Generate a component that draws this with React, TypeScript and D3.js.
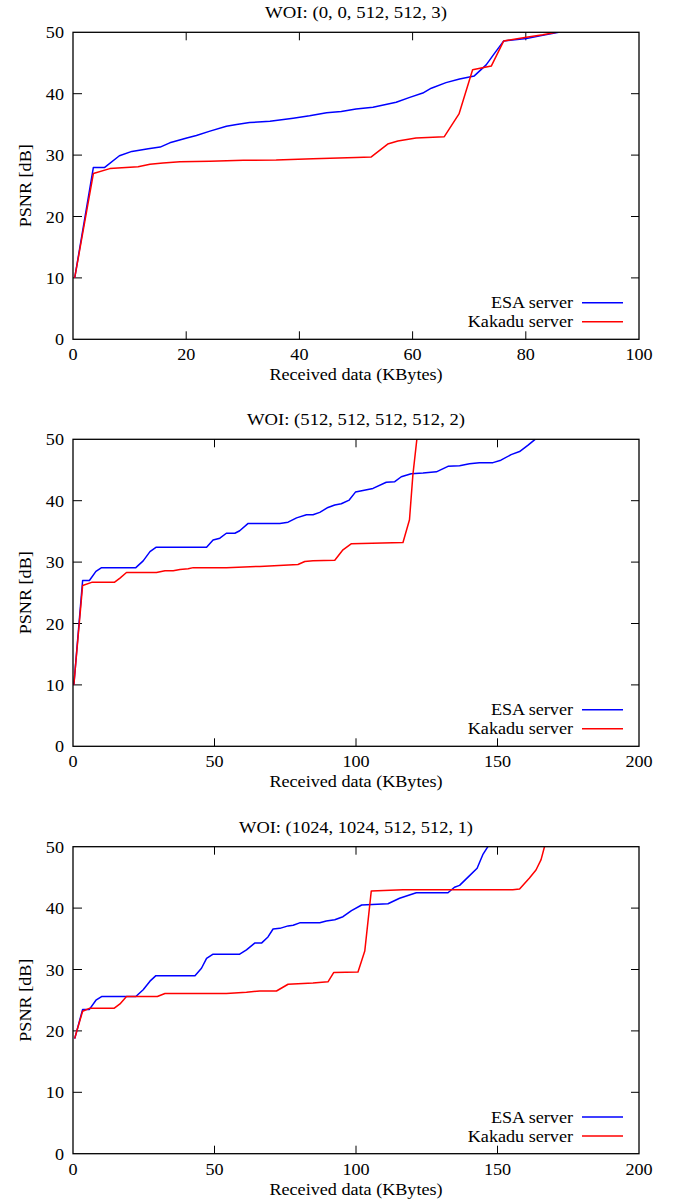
import React, { useEffect, useRef } from "react";
import * as d3 from "d3";

// received data (KBytes), PSNR (dB)
const woi1Esa: [number, number][] = [
  [0.3, 10], [3.6, 28.0], [5.6, 28.0], [8.2, 29.9], [10.4, 30.6], [13.3, 31.05],
  [15.4, 31.3], [17.1, 32.0], [20.1, 32.8], [21.8, 33.2], [24.2, 33.9], [27.1, 34.7],
  [28.9, 35.0], [31.2, 35.3], [34.8, 35.5], [38.9, 36.0], [41.8, 36.4], [44.8, 36.9],
  [47.4, 37.1], [50.0, 37.5], [53.0, 37.8], [57.1, 38.6], [59.5, 39.4], [61.8, 40.1],
  [63.3, 40.9], [65.9, 41.8], [68.3, 42.4], [70.9, 42.9], [73.0, 44.7], [74.5, 46.6],
  [76.1, 48.6], [80.1, 49.0], [83.0, 49.5], [85.8, 50.0],
];
const woi1Kakadu: [number, number][] = [
  [0.3, 10], [3.6, 27.0], [6.5, 27.8], [11.5, 28.1], [13.6, 28.5], [15.9, 28.7],
  [18.9, 28.9], [24.2, 29.0], [30.1, 29.15], [35.9, 29.2], [42.4, 29.4], [50.0, 29.6],
  [52.7, 29.7], [55.6, 31.8], [57.4, 32.3], [60.6, 32.8], [65.6, 33.0], [68.2, 36.7],
  [70.6, 43.9], [73.9, 44.5], [76.1, 48.6], [80.1, 49.2], [83.0, 49.6], [85.4, 50.0],
];

const woi2Esa: [number, number][] = [
  [0.3, 10], [3.4, 27.0], [5.8, 27.0], [8.1, 28.5], [10.1, 29.1], [22.2, 29.1],
  [24.8, 30.2], [27.2, 31.7], [29.3, 32.4], [47.2, 32.4], [49.5, 33.6], [51.9, 33.9],
  [54.2, 34.7], [57.2, 34.7], [58.9, 35.1], [61.9, 36.3], [73.1, 36.3], [76.0, 36.5],
  [79.0, 37.2], [82.5, 37.7], [84.8, 37.7], [87.2, 38.1], [90.1, 38.9], [92.5, 39.3],
  [94.8, 39.5], [97.6, 40.1], [99.8, 41.4], [106.0, 42.0], [110.7, 43.0], [113.7, 43.1],
  [116.0, 43.9], [119.5, 44.4], [123.7, 44.5], [128.4, 44.7], [132.5, 45.6], [136.6, 45.7],
  [140.1, 46.0], [143.6, 46.2], [148.4, 46.2], [151.2, 46.6], [154.8, 47.5], [157.8, 48.0],
  [160.7, 49.0], [163.3, 50.0],
];
const woi2Kakadu: [number, number][] = [
  [0.3, 10], [3.4, 26.2], [6.6, 26.7], [14.6, 26.7], [16.6, 27.4], [18.9, 28.3],
  [29.5, 28.3], [32.5, 28.6], [35.4, 28.6], [37.8, 28.8], [40.7, 28.9], [42.5, 29.1],
  [54.2, 29.1], [66.0, 29.3], [79.5, 29.6], [81.9, 30.1], [84.8, 30.2], [92.5, 30.3],
  [95.4, 32.0], [98.4, 33.0], [116.6, 33.2], [118.9, 36.9], [120.1, 44.2], [121.5, 50.0],
];

const woi3Esa: [number, number][] = [
  [0.6, 18.75], [3.4, 23.5], [5.8, 23.5], [8.1, 25.0], [10.1, 25.6], [22.2, 25.6],
  [24.8, 26.7], [27.2, 28.1], [29.3, 29.0], [43.1, 29.0], [45.4, 30.2], [47.2, 31.8],
  [49.5, 32.5], [58.9, 32.5], [61.3, 33.2], [64.2, 34.3], [66.6, 34.3], [68.9, 35.3],
  [70.7, 36.6], [73.1, 36.7], [76.0, 37.1], [77.8, 37.2], [80.1, 37.6], [87.2, 37.6],
  [89.5, 37.9], [92.5, 38.1], [95.4, 38.6], [98.4, 39.6], [102.0, 40.5], [111.3, 40.7],
  [115.4, 41.6], [121.3, 42.5], [132.5, 42.5], [134.8, 43.4], [136.6, 43.7], [139.5, 45.0],
  [142.8, 46.5], [144.8, 48.7], [146.6, 50.0],
];
const woi3Kakadu: [number, number][] = [
  [0.6, 18.75], [1.3, 19.9], [3.4, 23.2], [6.0, 23.7], [14.6, 23.7], [16.6, 24.4],
  [18.9, 25.6], [29.8, 25.6], [32.5, 26.1], [54.2, 26.1], [61.3, 26.3], [66.0, 26.5],
  [71.9, 26.5], [76.0, 27.6], [84.8, 27.8], [90.1, 28.0], [92.1, 29.5], [100.7, 29.6],
  [103.1, 33.0], [105.4, 42.8], [116.6, 43.0], [129.5, 43.0], [155.4, 43.0], [157.8, 43.1],
  [161.3, 44.9], [163.6, 46.2], [165.4, 47.9], [166.6, 50.0],
];

const titles = [
  "WOI: (0, 0, 512, 512, 3)",
  "WOI: (512, 512, 512, 512, 2)",
  "WOI: (1024, 1024, 512, 512, 1)",
];
const xMaxes = [100, 200, 200];
const xSteps = [20, 50, 50];
const esaSeries = [woi1Esa, woi2Esa, woi3Esa];
const kakaduSeries = [woi1Kakadu, woi2Kakadu, woi3Kakadu];
const seriesNames = ["ESA server", "Kakadu server"];
const seriesColors = ["#0000ff", "#ff0000"];

const W = 683;
const H = 1203;
const plotLeft = 73;
const plotWidth = 566;
const plotHeight = 307;
const plotTops = [32.3, 439.3, 846.7];
const titleWidths = [182, 218, 234];
const FONT = "'Liberation Serif', 'Times New Roman', serif";
const FS = 16.5;
const SX = 1.1; // the glyphs are a bit wide in the original

const App = () => {
  const ref = useRef<SVGSVGElement>(null);

  useEffect(() => {
    const svg = d3.select(ref.current);
    svg.selectAll("*").remove();

    const label = (g, x, y, text, anchor, rot = 0) =>
      g
        .append("text")
        .attr("transform", `translate(${x},${y}) rotate(${rot}) scale(${SX},1)`)
        .attr("text-anchor", anchor)
        .style("font-family", FONT)
        .style("font-size", `${FS}px`)
        .attr("fill", "#000")
        .text(text);

    titles.forEach((title, i) => {
      const top = plotTops[i];
      const bottom = top + plotHeight;
      const right = plotLeft + plotWidth;
      const g = svg.append("g");

      const x = d3.scaleLinear().domain([0, xMaxes[i]]).range([plotLeft, right]);
      const y = d3.scaleLinear().domain([0, 50]).range([bottom, top]);

      //clip
      const clipId = `clip${i}`;
      g.append("clipPath")
        .attr("id", clipId)
        .append("rect")
        .attr("x", plotLeft)
        .attr("y", top)
        .attr("width", plotWidth)
        .attr("height", plotHeight);

      //ticks on all four sides, pointing inwards
      const xTicks = d3.range(0, xMaxes[i] + 1, xSteps[i]);
      const yTicks = d3.range(0, 51, 10);
      xTicks.forEach((t) => {
        if (t > 0 && t < xMaxes[i]) {
          g.append("line").attr("x1", x(t)).attr("x2", x(t)).attr("y1", bottom).attr("y2", bottom - 8)
            .attr("stroke", "#000").attr("stroke-width", 1);
          g.append("line").attr("x1", x(t)).attr("x2", x(t)).attr("y1", top).attr("y2", top + 8)
            .attr("stroke", "#000").attr("stroke-width", 1);
        }
        label(g, x(t), bottom + 21, String(t), "middle");
      });
      yTicks.forEach((t) => {
        if (t > 0 && t < 50) {
          g.append("line").attr("x1", plotLeft).attr("x2", plotLeft + 9).attr("y1", y(t)).attr("y2", y(t))
            .attr("stroke", "#000").attr("stroke-width", 1);
          g.append("line").attr("x1", right).attr("x2", right - 8).attr("y1", y(t)).attr("y2", y(t))
            .attr("stroke", "#000").attr("stroke-width", 1);
        }
        label(g, 64, y(t) + 6, String(t), "end");
      });

      //lines
      const line = d3
        .line<[number, number]>()
        .x((d) => x(d[0]))
        .y((d) => y(d[1]));
      [esaSeries[i], kakaduSeries[i]].forEach((s, k) => {
        g.append("path")
          .attr("d", line(s))
          .attr("fill", "none")
          .attr("stroke", seriesColors[k])
          .attr("stroke-width", 1.5)
          .attr("stroke-linejoin", "round")
          .attr("clip-path", `url(#${clipId})`);
      });

      //frame
      g.append("rect")
        .attr("x", plotLeft)
        .attr("y", top)
        .attr("width", plotWidth)
        .attr("height", plotHeight)
        .attr("fill", "none")
        .attr("stroke", "#000")
        .attr("stroke-width", 1.3);

      //legend
      seriesNames.forEach((name, k) => {
        const ly = bottom - 36.6 + k * 19;
        label(g, 573, ly + 5.5, name, "end");
        g.append("line").attr("x1", 582).attr("x2", 623).attr("y1", ly).attr("y2", ly)
          .attr("stroke", seriesColors[k]).attr("stroke-width", 1.5);
      });

      //title, stretched to the width it has in the original
      g.append("text")
        .attr("x", (plotLeft + right) / 2 - titleWidths[i] / 2)
        .attr("y", top - 14)
        .attr("textLength", titleWidths[i])
        .attr("lengthAdjust", "spacingAndGlyphs")
        .style("font-family", FONT)
        .style("font-size", `${FS}px`)
        .attr("fill", "#000")
        .text(title);
      label(g, (plotLeft + right) / 2, bottom + 41, "Received data (KBytes)", "middle");
      label(g, 31, (top + bottom) / 2, "PSNR [dB]", "middle", -90);
    });
  }, []);

  return (
    <div style={{ position: "absolute", left: 0, top: 0 }}>
      <svg ref={ref} width={W} height={H} style={{ display: "block", background: "#fff" }}></svg>
    </div>
  );
};

export default App;
